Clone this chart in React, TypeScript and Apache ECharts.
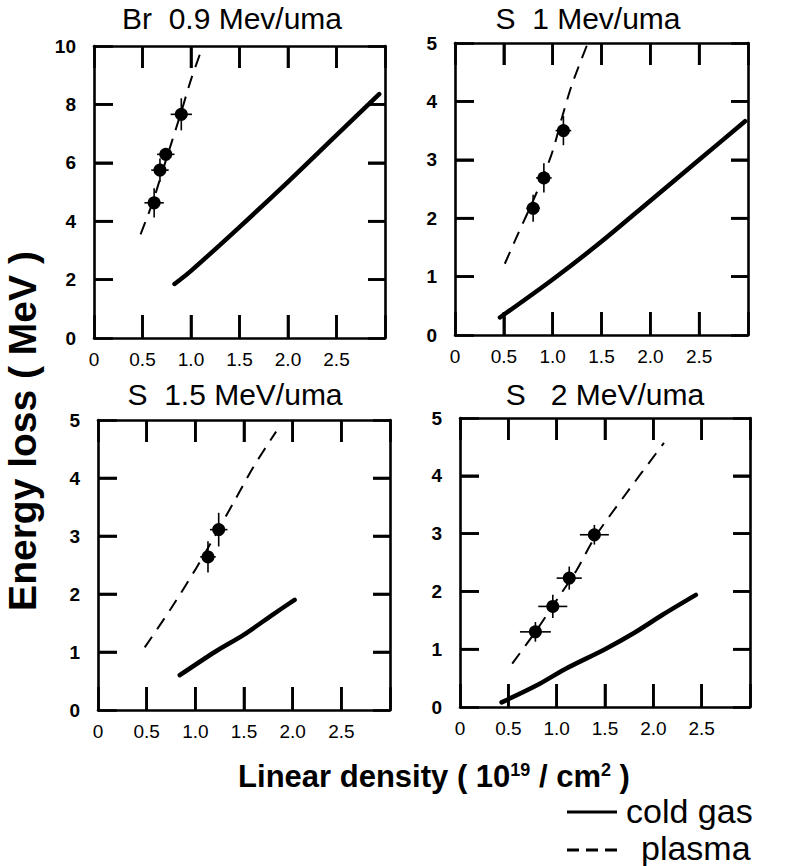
import { useEffect, useRef } from 'react';
import * as echarts from 'echarts';

const FONT = "'Liberation Sans', Arial, Helvetica, sans-serif";

// Tick labels and tick positions
const xTickLabels = ['0', '0.5', '1.0', '1.5', '2.0', '2.5'];
const yTickLabelsBr = ['0', '2', '4', '6', '8', '10'];
const yTickLabelsS = ['0', '1', '2', '3', '4', '5'];
const xTickValues = [0.5, 1.0, 1.5, 2.0, 2.5];
const yTickValuesBr = [2, 4, 6, 8];
const yTickValuesS = [1, 2, 3, 4];

const panelTitles = ['Br  0.9 Mev/uma', 'S  1 Mev/uma', 'S  1.5 MeV/uma', 'S   2 MeV/uma'];
const panelYMax = [10, 5, 5, 5];

// Panel 1: Br 0.9 MeV/uma   [x, y]
const coldGasBr09 = [[0.83, 1.85], [1.0, 2.3], [1.5, 3.8], [2.0, 5.35], [2.5, 6.95], [2.94, 8.35]];
const plasmaBr09 = [[0.48, 3.55], [0.6, 4.6], [0.7, 5.65], [0.8, 6.7], [0.9, 7.75], [1.0, 8.85], [1.09, 9.7]];
// [x, y, xErr, yErr]
const measuredBr09 = [[0.62, 4.63, 0.1, 0.5], [0.68, 5.75, 0.09, 0.4], [0.74, 6.29, 0.09, 0.2], [0.9, 7.66, 0.11, 0.55]];

// Panel 2: S 1 MeV/uma
const coldGasS1 = [[0.46, 0.3], [1.0, 0.95], [1.5, 1.6], [2.0, 2.3], [2.5, 3.0], [2.97, 3.66]];
const plasmaS1 = [[0.51, 1.22], [0.65, 1.75], [0.8, 2.3], [0.9, 2.7], [1.0, 3.15], [1.1, 3.75], [1.2, 4.3], [1.36, 5.0]];
const measuredS1 = [[0.8, 2.17, 0.07, 0.23], [0.91, 2.69, 0.08, 0.25], [1.11, 3.5, 0.08, 0.25]];

// Panel 3: S 1.5 MeV/uma
const coldGasS15 = [[0.84, 0.6], [1.2, 1.0], [1.5, 1.3], [1.8, 1.65], [2.02, 1.9]];
const plasmaS15 = [[0.48, 1.08], [0.75, 1.75], [1.0, 2.42], [1.2, 3.0], [1.4, 3.6], [1.6, 4.2], [1.83, 4.8]];
const measuredS15 = [[1.13, 2.64, 0.08, 0.27], [1.24, 3.11, 0.09, 0.29]];

// Panel 4: S 2 MeV/uma
const coldGasS2 = [[0.43, 0.08], [0.8, 0.38], [1.08, 0.65], [1.5, 1.0], [1.8, 1.28], [2.1, 1.6], [2.44, 1.94]];
const plasmaS2 = [[0.54, 0.75], [0.78, 1.3], [1.0, 1.85], [1.2, 2.35], [1.4, 2.95], [1.7, 3.65], [2.11, 4.57]];
const measuredS2 = [[0.78, 1.3, 0.16, 0.17], [0.96, 1.74, 0.15, 0.2], [1.13, 2.23, 0.13, 0.2], [1.39, 2.98, 0.15, 0.17]];

const coldGasSets = [coldGasBr09, coldGasS1, coldGasS15, coldGasS2];
const plasmaSets = [plasmaBr09, plasmaS1, plasmaS15, plasmaS2];
const measuredSets = [measuredBr09, measuredS1, measuredS15, measuredS2];

export default function App() {
  const ref = useRef<HTMLDivElement>(null);

  useEffect(() => {
    document.body.style.margin = '0';
    if (!ref.current) return;
    const chart = echarts.init(ref.current, null, { renderer: 'svg' });

    const grids = [
      { left: 94, top: 46, width: 291, height: 292 },
      { left: 455, top: 43, width: 293, height: 292 },
      { left: 98, top: 420, width: 292, height: 290 },
      { left: 460, top: 418, width: 290, height: 289 },
    ];
    const titlePos = [[232, 18], [588, 18], [235, 394], [605, 394]];

    const lineW = 2.6;
    const tickLen = { bottom: 23, top: 22, left: 19, right: 17 };
    const axisLineCfg = () => ({ show: true, onZero: false, lineStyle: { color: '#000', width: lineW } });
    const tickCfg = (len: number) => ({ show: true, inside: true, length: len, lineStyle: { color: '#000', width: lineW } });

    const xAxes: any[] = [];
    const yAxes: any[] = [];
    const series: any[] = [];

    const renderErrorPoint = (params: any, api: any) => {
      const x = api.value(0);
      const y = api.value(1);
      const ex = api.value(2);
      const ey = api.value(3);
      const c = api.coord([x, y]);
      const l = api.coord([x - ex, y]);
      const r = api.coord([x + ex, y]);
      const t = api.coord([x, y + ey]);
      const b = api.coord([x, y - ey]);
      return {
        type: 'group',
        children: [
          { type: 'line', shape: { x1: l[0], y1: l[1], x2: r[0], y2: r[1] }, style: { stroke: '#000', lineWidth: 1.6 } },
          { type: 'line', shape: { x1: t[0], y1: t[1], x2: b[0], y2: b[1] }, style: { stroke: '#000', lineWidth: 1.6 } },
          { type: 'circle', shape: { cx: c[0], cy: c[1], r: 6.5 }, style: { fill: '#000' } },
        ],
      };
    };

    grids.forEach((g, i) => {
      const yMax = panelYMax[i];
      const yLabels = i === 0 ? yTickLabelsBr : yTickLabelsS;
      const yStep = yMax / 5;
      xAxes.push({
        gridIndex: i, type: 'value', min: 0, max: 3, interval: 0.5, position: 'bottom',
        axisLine: axisLineCfg(), axisTick: tickCfg(tickLen.bottom),
        axisLabel: { show: true, margin: 12, color: '#000', fontSize: 19, fontFamily: FONT, formatter: (v: number) => xTickLabels[Math.round(v / 0.5)] ?? '' },
        splitLine: { show: false },
      });
      xAxes.push({
        gridIndex: i, type: 'value', min: 0, max: 3, interval: 0.5, position: 'top',
        axisLine: axisLineCfg(), axisTick: tickCfg(tickLen.top), axisLabel: { show: false }, splitLine: { show: false },
      });
      yAxes.push({
        gridIndex: i, type: 'value', min: 0, max: yMax, interval: yStep, position: 'left',
        axisLine: axisLineCfg(), axisTick: tickCfg(tickLen.left),
        axisLabel: { show: true, margin: 18, color: '#000', fontSize: 19, fontWeight: 'bold', fontFamily: FONT, formatter: (v: number) => yLabels[Math.round(v / yStep)] ?? '' },
        splitLine: { show: false },
      });
      yAxes.push({
        gridIndex: i, type: 'value', min: 0, max: yMax, interval: yStep, position: 'right',
        axisLine: axisLineCfg(), axisTick: tickCfg(tickLen.right), axisLabel: { show: false }, splitLine: { show: false },
      });

      series.push({
        name: 'cold gas', type: 'line', xAxisIndex: 2 * i, yAxisIndex: 2 * i,
        data: coldGasSets[i], showSymbol: false, symbol: 'none', smooth: 0.3,
        lineStyle: { color: '#000', width: 4.5, cap: 'round' },
      });
      series.push({
        name: 'plasma', type: 'line', xAxisIndex: 2 * i, yAxisIndex: 2 * i,
        data: plasmaSets[i], showSymbol: false, symbol: 'none', smooth: 0.3,
        lineStyle: { color: '#000', width: 2, type: [13, 9] },
      });
      series.push({
        name: 'measured', type: 'custom', xAxisIndex: 2 * i, yAxisIndex: 2 * i,
        data: measuredSets[i], renderItem: renderErrorPoint, encode: { x: 0, y: 1 }, z: 5,
      });
    });

    chart.setOption({
      animation: false,
      backgroundColor: '#fff',
      grid: grids.map((g) => ({ ...g, containLabel: false })),
      xAxis: xAxes,
      yAxis: yAxes,
      series,
    });

    const graphics: any[] = panelTitles.map((t, i) => ({
      type: 'text', x: titlePos[i][0], y: titlePos[i][1],
      style: { text: t, align: 'center', verticalAlign: 'middle', fontSize: 30, fontFamily: FONT, fill: '#000' },
    }));

    // Inward tick marks on all four frame sides, positioned through each grid's scales
    grids.forEach((g, i) => {
      const yMax = panelYMax[i];
      const yTicks = i === 0 ? yTickValuesBr : yTickValuesS;
      const finder = { gridIndex: i };
      const st = () => ({ stroke: '#000', lineWidth: lineW });
      xTickValues.forEach((v) => {
        const b = chart.convertToPixel(finder as any, [v, 0]) as any;
        const t = chart.convertToPixel(finder as any, [v, yMax]) as any;
        if (!b || !t) return;
        graphics.push({ type: 'line', z: 50, shape: { x1: b[0], y1: b[1], x2: b[0], y2: b[1] - tickLen.bottom }, style: st() });
        graphics.push({ type: 'line', z: 50, shape: { x1: t[0], y1: t[1], x2: t[0], y2: t[1] + tickLen.top }, style: st() });
      });
      yTicks.forEach((v) => {
        const l = chart.convertToPixel(finder as any, [0, v]) as any;
        const r = chart.convertToPixel(finder as any, [3, v]) as any;
        if (!l || !r) return;
        graphics.push({ type: 'line', z: 50, shape: { x1: l[0], y1: l[1], x2: l[0] + tickLen.left, y2: l[1] }, style: st() });
        graphics.push({ type: 'line', z: 50, shape: { x1: r[0], y1: r[1], x2: r[0] - tickLen.right, y2: r[1] }, style: st() });
      });
    });

    graphics.push({
      type: 'text', x: 22, y: 431, rotation: Math.PI / 2,
      style: { text: 'Energy loss ( MeV )', align: 'center', verticalAlign: 'middle', fontSize: 39, fontWeight: 'bold', fontFamily: FONT, fill: '#000' },
    });
    graphics.push({
      type: 'text', x: 434, y: 776,
      style: {
        text: 'Linear density ( 10{sup|19} / cm{sup|2} )',
        align: 'center', verticalAlign: 'middle', fontSize: 31, fontWeight: 'bold', fontFamily: FONT, fill: '#000',
        rich: { sup: { fontSize: 18, fontWeight: 'bold', fontFamily: FONT, verticalAlign: 'top', fill: '#000' } },
      },
    });
    // legend
    graphics.push({ type: 'line', shape: { x1: 567, y1: 812, x2: 617, y2: 812 }, style: { stroke: '#000', lineWidth: 3 } });
    graphics.push({
      type: 'text', x: 626, y: 811,
      style: { text: 'cold gas', align: 'left', verticalAlign: 'middle', fontSize: 34, fontFamily: FONT, fill: '#000' },
    });
    graphics.push({ type: 'line', shape: { x1: 567, y1: 850, x2: 617, y2: 850 }, style: { stroke: '#000', lineWidth: 3, lineDash: [12, 7] } });
    graphics.push({
      type: 'text', x: 641, y: 848,
      style: { text: 'plasma', align: 'left', verticalAlign: 'middle', fontSize: 34, fontFamily: FONT, fill: '#000' },
    });

    chart.setOption({ graphic: graphics });

    return () => chart.dispose();
  }, []);

  return <div ref={ref} style={{ position: 'absolute', left: 0, top: 0, width: 788, height: 866 }} />;
}
